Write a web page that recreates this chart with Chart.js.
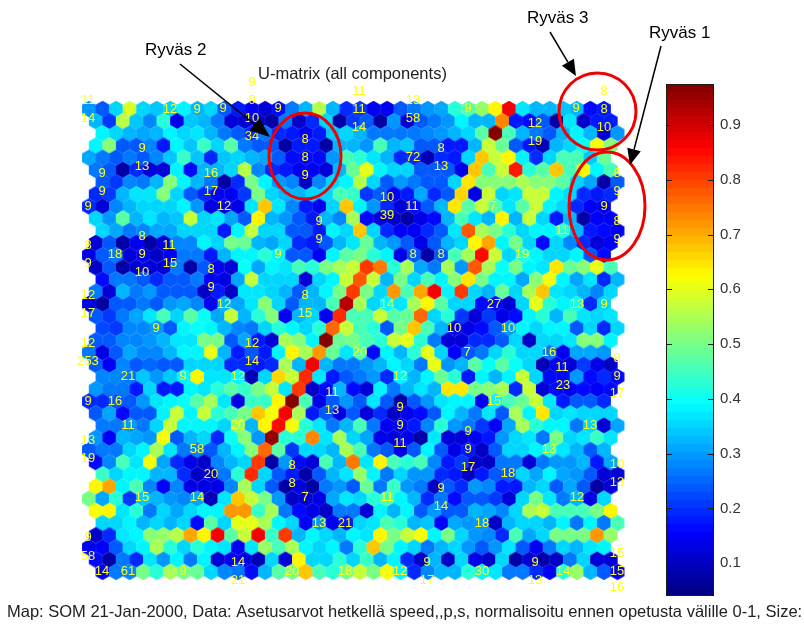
<!DOCTYPE html>
<html><head><meta charset="utf-8">
<script src="https://cdn.jsdelivr.net/npm/chart.js@4"></script>
<style>html,body{margin:0;padding:0;background:#fff;overflow:hidden}canvas{position:absolute}</style>
</head><body>
<canvas id="map" width="804" height="624" style="left:0;top:0"></canvas>
<canvas id="bar" width="138" height="552" style="left:666px;top:64px"></canvas>
<script>
// U-matrix values in hundredths, row by row
const row00=[29,24,36,59,36,34,35,38,33,35,24,18,15,12,16,27,33,56,33,19,21,15,15,24,26,30,31,43,47,53,63,86,37,33,33,34,32,16,18];
const row01=[33,21,56,34,28,42,14,34,32,27,12,12,10,7,27,10,19,35,7,21,24,7,29,12,24,26,30,38,33,33,74,18,16,24,8,37,10,18,18];
const row02=[38,36,33,31,33,38,35,37,32,27,24,19,26,19,18,15,18,34,35,32,26,26,27,26,28,29,32,36,47,98,45,32,27,24,33,38,33,12,29];
const row03=[38,52,24,24,28,18,38,34,44,35,47,26,24,24,8,18,18,7,33,33,29,45,32,34,24,24,18,18,33,57,48,24,18,9,33,36,40,62,52];
const row04=[31,27,24,26,24,28,34,44,34,19,34,36,33,31,24,16,16,16,29,45,43,37,33,19,19,9,19,18,36,68,58,63,38,19,35,45,45,34,48];
const row05=[26,24,8,19,12,12,38,16,33,32,35,56,28,19,18,15,15,12,33,48,60,39,36,35,24,24,24,14,68,45,58,84,42,47,68,45,63,38,46];
const row06=[24,21,28,26,33,52,38,33,27,8,19,50,38,30,28,10,28,35,38,56,36,24,29,26,24,24,35,65,52,52,52,54,52,52,47,35,31,7,24];
const row07=[19,21,33,37,37,52,36,24,19,15,15,21,50,36,33,33,36,36,45,44,21,24,15,18,31,19,24,66,14,58,35,37,58,58,38,35,19,18,19];
const row08=[19,12,28,33,35,35,36,38,30,14,14,14,37,68,37,28,18,15,35,68,38,29,19,12,16,24,33,65,47,58,47,37,47,58,38,35,19,15,15];
const row09=[35,30,47,33,37,33,34,58,35,37,31,24,63,33,29,24,18,33,28,55,16,12,10,8,14,16,32,45,37,33,63,33,57,36,18,33,8,15,15];
const row10=[35,31,26,28,31,31,35,35,35,18,38,58,35,35,24,24,18,38,36,68,35,19,15,15,19,24,37,78,55,50,42,35,38,38,42,33,18,16,15];
const row11=[12,24,8,15,8,12,28,28,38,36,50,48,33,31,35,19,18,24,32,37,48,33,29,24,14,24,33,36,63,70,38,50,36,16,36,28,19,12,15];
const row12=[14,24,26,12,15,10,15,27,26,18,33,38,38,42,38,24,24,15,38,47,50,43,38,14,24,8,24,45,55,85,57,35,42,38,35,36,38,24,16];
const row13=[10,24,7,12,12,12,26,7,24,15,12,40,31,38,37,45,43,50,55,58,80,75,43,55,31,26,55,29,78,55,40,50,38,37,65,48,52,60,45];
const row14=[16,26,26,24,19,24,24,26,15,14,31,58,36,35,36,12,36,38,58,78,58,33,50,35,46,38,52,65,50,38,38,31,52,62,38,31,37,19,33];
const row15=[26,12,33,27,29,24,24,24,10,18,10,37,37,36,33,24,33,38,50,80,50,36,72,45,70,86,38,80,35,33,48,36,55,68,37,35,32,28,35];
const row16=[14,8,24,24,26,24,30,31,28,15,33,31,37,52,36,24,32,33,45,92,55,36,38,37,55,63,47,35,35,16,16,12,36,60,43,38,40,19,35];
const row17=[24,21,26,31,37,45,36,47,40,31,58,33,43,52,15,32,35,15,82,45,45,57,47,48,77,35,42,21,12,21,14,16,38,42,32,45,37,35,37];
const row18=[22,21,28,28,30,24,38,40,38,33,28,26,35,43,38,35,42,77,57,45,42,24,50,68,45,33,14,14,16,24,29,38,36,38,38,24,35,19,35];
const row19=[24,24,28,28,30,33,37,37,50,50,24,31,18,12,55,52,38,97,48,50,46,42,58,60,43,26,12,12,19,19,24,36,10,36,36,37,52,52,38];
const row20=[27,14,24,31,28,28,33,38,38,60,33,18,24,18,38,63,55,72,48,37,47,16,38,33,42,60,35,15,24,26,35,42,36,36,26,15,31,31,29];
const row21=[24,15,28,24,25,24,24,35,35,36,19,19,18,19,55,33,86,33,26,27,29,33,38,36,26,60,29,33,47,40,47,40,36,9,15,12,21,14,10];
const row22=[28,28,26,34,29,34,38,63,37,37,38,9,36,66,58,82,37,18,24,26,30,19,38,33,38,48,42,18,38,33,38,58,35,16,16,29,16,19,16];
const row23=[30,26,26,18,35,18,18,38,37,43,47,44,50,58,37,80,10,16,32,16,12,38,26,33,37,33,65,65,50,52,55,19,58,12,16,15,16,15,16];
const row24=[19,19,24,24,29,37,38,40,47,55,37,14,44,44,63,97,46,14,24,30,24,37,24,7,24,29,37,38,38,15,38,46,48,58,37,18,24,24,19];
const row25=[24,31,16,24,24,38,58,38,57,43,45,50,68,62,86,55,18,24,14,24,12,19,10,15,16,24,38,33,26,37,24,55,38,65,36,37,35,35,35];
const row26=[26,26,29,26,35,58,38,38,38,35,53,32,63,85,62,42,37,26,33,45,26,15,15,18,28,42,29,27,21,15,31,55,43,38,38,26,35,12,31];
const row27=[30,15,33,31,29,62,24,33,35,19,40,52,29,95,43,42,74,37,55,36,31,14,14,15,7,37,12,12,15,18,29,35,37,26,50,36,37,44,37];
const row28=[24,26,26,35,38,55,37,26,28,24,32,38,52,76,47,21,35,36,33,55,45,26,24,14,24,38,24,14,18,10,24,36,35,38,42,37,32,24,33];
const row29=[16,28,46,37,62,31,19,14,10,28,32,36,80,7,29,16,12,45,33,75,37,63,45,43,46,28,18,21,10,10,26,26,12,26,29,29,32,18,31];
const row30=[44,36,38,38,33,33,19,10,12,26,42,82,36,24,18,8,24,33,37,53,38,26,36,30,29,19,18,10,18,24,24,36,31,38,31,30,24,12,12];
const row31=[63,70,38,45,28,15,28,14,14,14,28,55,35,24,8,14,7,26,30,24,48,26,44,29,26,10,24,19,30,28,18,18,33,36,24,31,24,7,12];
const row32=[50,31,42,21,34,32,29,28,31,9,37,67,58,50,30,10,12,14,31,37,35,42,45,38,33,19,26,16,24,24,21,12,35,50,37,26,33,14,35];
const row33=[62,63,37,43,26,35,31,35,38,38,72,72,44,55,26,16,14,10,27,27,12,38,33,38,24,29,24,24,33,31,28,36,54,58,45,45,45,50,63];
const row34=[36,35,38,32,35,33,36,16,47,36,60,60,55,38,35,15,29,15,18,36,37,45,42,33,34,15,31,29,29,10,32,36,36,33,38,26,38,26,45];
const row35=[10,19,37,38,52,53,56,70,63,86,47,58,86,44,80,33,38,35,33,38,37,63,50,57,62,38,50,35,29,28,19,45,31,36,50,50,50,72,53];
const row36=[15,15,24,35,38,55,42,35,42,38,37,15,37,53,46,55,38,35,38,26,43,68,50,38,35,26,33,36,30,24,29,37,24,15,26,35,33,37,38];
const row37=[16,7,26,19,37,30,38,26,38,12,15,14,9,35,12,63,35,35,42,35,44,33,38,19,10,33,10,36,14,11,35,7,12,7,10,26,35,12,12];
const row38=[15,26,28,50,42,55,50,48,35,28,26,16,33,47,50,68,46,43,50,58,50,62,38,19,28,33,33,43,38,37,26,26,19,15,43,53,33,24,15];
const gridRows=[row00,row01,row02,row03,row04,row05,row06,row07,row08,row09,row10,row11,row12,row13,row14,row15,row16,row17,row18,row19,row20,row21,row22,row23,row24,row25,row26,row27,row28,row29,row30,row31,row32,row33,row34,row35,row36,row37,row38];
const rowShift=[0,0.5,1,0.5];

// hit counts printed on the map
const hitText=["11","14","12","9","9","9","9","10","34","9","8","8","9","9","13","9","16","9","17","9","12","9","9","8","11","8",
"11","11","14","13","58","9","9","8","8","10","12","19","8","72","13","8","9","9","8","9","10","39","11","7","11",
"18","9","15","9","10","8","9","9","8","12","12","17","15","9","12","12","253","14","21","9","12","11","13","9","16",
"8","8","19","14","27","13","9","10","10","20","7","16","8","11","9","12","23","17","15","9",
"11","20","13","58","19","8","20","8","15","14","7","13","21","9","58","14","14","61","9","20","18","21",
"9","13","9","11","9","13","17","10","18","13","9","14","11","12","18","15","9","9","12","30","14","15","17","13","16"];
const hitX=[88,88,170,197,223,252,252,252,252,278,305,305,305,142,142,102,211,102,211,88,224,319,319,142,169,88,
359,359,359,413,413,468,576,604,604,604,535,535,441,413,441,617,617,604,617,617,387,387,412,493,562,
115,142,170,88,142,211,278,211,305,88,224,88,305,156,88,252,88,252,128,183,238,332,332,88,115,
413,441,522,387,494,577,604,454,508,360,467,549,617,562,617,400,563,617,494,400,
128,238,88,197,88,292,211,292,142,197,305,319,345,88,88,238,102,128,183,292,345,238,
400,590,468,400,468,549,468,617,508,617,441,441,387,577,482,617,427,535,400,482,563,617,427,535,617];
const hitY=[100,118,109,109,108,82,100,118,136,108,139,157,175,148,166,173,173,191,191,206,206,221,239,236,245,245,
91,109,127,100,118,108,108,91,109,127,123,141,148,157,166,173,191,206,221,239,197,215,206,206,230,
254,254,263,263,272,269,254,287,295,295,304,313,313,328,343,343,361,361,376,376,376,392,410,401,401,
254,254,254,304,304,304,304,328,328,352,352,352,358,367,376,376,385,393,401,407,
425,425,440,449,458,465,474,483,497,497,497,523,523,537,556,562,571,571,571,571,571,580,
425,425,431,443,449,449,467,464,473,482,488,506,497,497,523,553,562,562,571,571,571,571,580,580,587];

// colour bar
const barTicks=[0.1,0.2,0.3,0.4,0.5,0.6,0.7,0.8,0.9];
const barMin=0.04, barMax=0.975, levels=64;

function jet(i){
  const t=(i+0.5)/levels, c=a=>Math.round(255*Math.max(0,Math.min(1,1.5-Math.abs(4*t-a))));
  return 'rgb('+c(3)+','+c(2)+','+c(1)+')';
}
function levelOf(v){return Math.max(0,Math.min(levels-1,Math.floor((v-barMin)/(barMax-barMin)*levels)));}

const hexCache={};
function hexFor(i){
  if(hexCache[i])return hexCache[i];
  const cv=document.createElement('canvas');cv.width=18;cv.height=20;
  const g=cv.getContext('2d'),w=6.95,h=8.3;
  g.fillStyle=jet(i);g.beginPath();
  g.moveTo(9,10-h);g.lineTo(9+w,10-h/2);g.lineTo(9+w,10+h/2);g.lineTo(9,10+h);g.lineTo(9-w,10+h/2);g.lineTo(9-w,10-h/2);g.closePath();g.fill();
  return hexCache[i]=cv;
}

const cells=[];
gridRows.forEach((vals,r)=>vals.forEach((v,c)=>cells.push({x:c+rowShift[r%4],y:r,v:v/100})));
const hits=hitText.map((t,i)=>({x:hitX[i],y:hitY[i]}));

function arrow(ctx,x0,y0,x1,y1,L,W){
  const a=Math.atan2(y1-y0,x1-x0);
  ctx.strokeStyle='#000';ctx.fillStyle='#000';ctx.lineWidth=1.5;
  ctx.beginPath();ctx.moveTo(x0,y0);ctx.lineTo(x1-L*Math.cos(a),y1-L*Math.sin(a));ctx.stroke();
  ctx.beginPath();ctx.moveTo(x1,y1);
  ctx.lineTo(x1-L*Math.cos(a)+W*Math.sin(a),y1-L*Math.sin(a)-W*Math.cos(a));
  ctx.lineTo(x1-L*Math.cos(a)-W*Math.sin(a),y1-L*Math.sin(a)+W*Math.cos(a));
  ctx.closePath();ctx.fill();
}

const overlay={id:'overlay',afterDatasetsDraw(chart){
  const ctx=chart.ctx,X=chart.scales.ax,Y=chart.scales.ay;
  const px=v=>X.getPixelForValue(v),py=v=>Y.getPixelForValue(v);
  ctx.save();
  ctx.textAlign='center';ctx.textBaseline='middle';
  ctx.font='13px "Liberation Sans"';ctx.fillStyle='#ffff1a';
  chart.getDatasetMeta(1).data.forEach((el,i)=>ctx.fillText(hitText[i],el.x,el.y));
  ctx.strokeStyle='#f00000';ctx.lineWidth=3;
  [[305,156,36,43],[597.5,111.5,38.5,38.5],[607,206,38,54]].forEach(e=>{
    ctx.beginPath();ctx.ellipse(px(e[0]),py(e[1]),e[2],e[3],0,0,Math.PI*2);ctx.stroke();
  });
  arrow(ctx,px(180),py(64),px(270),py(137),20,8);
  arrow(ctx,px(550),py(32),px(576),py(76),16,7);
  arrow(ctx,px(661),py(46),px(630),py(165),16,7);
  ctx.fillStyle='#000';ctx.font='17px "Liberation Sans"';ctx.textAlign='left';
  ctx.fillText('Ryväs 2',px(145),py(50));
  ctx.fillText('Ryväs 3',px(527),py(18));
  ctx.fillText('Ryväs 1',px(649),py(33));
  ctx.fillStyle='#222';ctx.font='16.5px "Liberation Sans"';
  ctx.fillText('U-matrix (all components)',px(258),py(74));
  ctx.fillText('Map: SOM 21-Jan-2000, Data: Asetusarvot hetkellä speed,,p,s, normalisoitu ennen opetusta välille 0-1, Size:',px(7),py(612));
  ctx.restore();
}};

new Chart(document.getElementById('map'),{
  type:'scatter',
  data:{datasets:[
    {data:cells,xAxisID:'x',yAxisID:'y',pointRadius:8,pointHoverRadius:8,clip:false,
     pointStyle:c=>hexFor(levelOf(c.raw?c.raw.v:0)),showLine:false},
    {data:hits,xAxisID:'ax',yAxisID:'ay',pointRadius:0,showLine:false}
  ]},
  options:{responsive:false,animation:false,events:[],devicePixelRatio:1,layout:{padding:0,autoPadding:false},
    plugins:{legend:{display:false},tooltip:{enabled:false}},
    scales:{
      x:{type:'linear',display:false,min:-89/13.55,max:(804-89)/13.55},
      y:{type:'linear',display:false,reverse:true,min:-109/12.18,max:(624-109)/12.18},
      ax:{type:'linear',display:false,min:0,max:804},
      ay:{type:'linear',display:false,reverse:true,min:0,max:624}
    }},
  plugins:[overlay]
});

const bands=[],bandColors=[];
for(let i=0;i<levels;i++){
  const lo=barMin+(barMax-barMin)*i/levels,hi=barMin+(barMax-barMin)*(i+1)/levels;
  bands.push({x:0.5,y:[lo,hi]});bandColors.push(jet(i));
}
const frame={id:'frame',afterDatasetsDraw(chart){
  const ctx=chart.ctx,a=chart.chartArea,Y=chart.scales.y;
  ctx.save();ctx.strokeStyle='#1a1a1a';ctx.lineWidth=1;
  ctx.strokeRect(a.left+0.5,a.top+0.5,a.right-a.left-1,a.bottom-a.top-1);
  barTicks.forEach(t=>{
    const y=Math.round(Y.getPixelForValue(t))+0.5;
    ctx.beginPath();ctx.moveTo(a.left,y);ctx.lineTo(a.left+6,y);ctx.moveTo(a.right-6,y);ctx.lineTo(a.right,y);ctx.stroke();
  });
  ctx.restore();
}};
new Chart(document.getElementById('bar'),{
  type:'bar',
  data:{datasets:[{data:bands,backgroundColor:bandColors,borderWidth:0,barThickness:48}]},
  options:{responsive:false,animation:false,events:[],devicePixelRatio:1,
    layout:{padding:{top:20,bottom:20,left:0,right:0}},
    plugins:{legend:{display:false},tooltip:{enabled:false}},
    scales:{
      x:{type:'linear',display:false,min:0,max:1},
      y:{type:'linear',position:'right',min:barMin,max:barMax,
        afterBuildTicks:s=>{s.ticks=barTicks.map(v=>({value:v}));},
        afterFit:s=>{s.width=90;},
        grid:{display:false,drawTicks:false},border:{display:false},
        ticks:{color:'#333',font:{family:'"Liberation Sans"',size:15},padding:6,
          callback:v=>v.toFixed(1)}}
    }},
  plugins:[frame]
});
</script>
</body></html>
